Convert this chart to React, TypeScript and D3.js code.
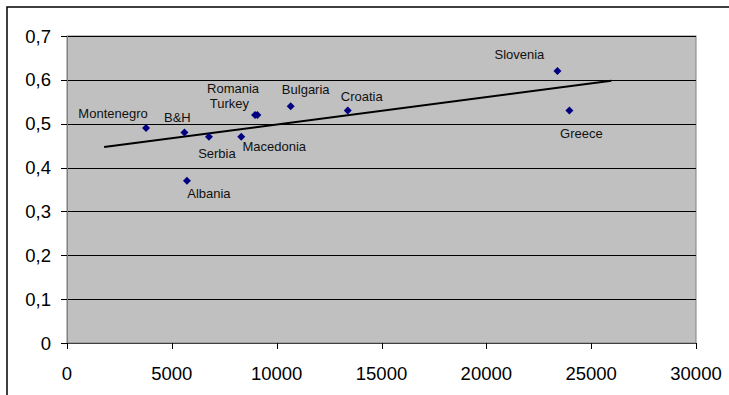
import React from "react";
import * as d3 from "d3";

// GDP per capita (USD) vs. index value, by country
const countries = ["Montenegro", "B&H", "Albania", "Serbia", "Macedonia", "Romania", "Turkey", "Bulgaria", "Croatia", "Slovenia", "Greece"];
const gdp = [3770, 5600, 5720, 6770, 8310, 8970, 9080, 10670, 13390, 23390, 23960];
const index = [0.49, 0.48, 0.37, 0.47, 0.47, 0.52, 0.52, 0.54, 0.53, 0.62, 0.53];

// label placement relative to each marker (px)
const labelDx = [-33, -7, 22, 8, 33, -22, -28, 15, 14, -38, 12];
const labelDy = [-15, -15, 13, 17, 10, -26, -11, -17, -14, -17, 23];

const xTicks = [0, 5000, 10000, 15000, 20000, 25000, 30000];
const yTicks = [0, 0.1, 0.2, 0.3, 0.4, 0.5, 0.6, 0.7];

// linear trendline extended 2000 units before and after the data
const trendForecast = 2000;

const W = 729;
const H = 395;
const plot = { left: 67, right: 696, top: 36, bottom: 343 };
const font = "Arial, 'Liberation Sans', sans-serif";

export default function App() {
  const x = d3.scaleLinear().domain([0, 30000]).range([plot.left, plot.right]);
  const y = d3.scaleLinear().domain([0, 0.7]).range([plot.bottom, plot.top]);

  const mx = d3.mean(gdp)!;
  const my = d3.mean(index)!;
  const sxy = d3.sum(gdp, (g, i) => (g - mx) * (index[i] - my));
  const sxx = d3.sum(gdp, (g) => (g - mx) ** 2);
  const slope = sxy / sxx;
  const intercept = my - slope * mx;
  const [gMin, gMax] = d3.extent(gdp) as [number, number];
  const trendX = [gMin - trendForecast, gMax + trendForecast];
  const trendLine = d3
    .line<number>()
    .x((g) => x(g))
    .y((g) => y(intercept + slope * g));

  const fmtY = (v: number) => (v === 0 ? "0" : d3.format(".1f")(v).replace(".", ","));
  // square marker turned 45° to a diamond
  const marker = d3.symbol(d3.symbolSquare, 32)();

  return (
    <svg
      width={W}
      height={H}
      style={{ position: "absolute", left: 0, top: 0, background: "#fff" }}
      fontFamily={font}
    >
      <rect x={7} y={7} width={W + 20} height={H + 20} fill="#fff" stroke="#000" strokeWidth={1.5} />

      <rect
        x={plot.left}
        y={plot.top}
        width={plot.right - plot.left}
        height={plot.bottom - plot.top}
        fill="#c0c0c0"
        stroke="#808080"
        strokeWidth={1}
      />

      {yTicks.slice(1).map((t) => (
        <line key={t} x1={plot.left} x2={plot.right} y1={Math.round(y(t)) + 0.5} y2={Math.round(y(t)) + 0.5} stroke="#000" strokeWidth={1} />
      ))}

      {/* axes */}
      <line x1={plot.left + 0.5} x2={plot.left + 0.5} y1={plot.top} y2={plot.bottom} stroke="#808080" />
      <line x1={plot.left} x2={plot.right} y1={plot.bottom + 0.5} y2={plot.bottom + 0.5} stroke="#404040" />
      {yTicks.map((t) => (
        <g key={t}>
          <line x1={plot.left - 6} x2={plot.left} y1={Math.round(y(t)) + 0.5} y2={Math.round(y(t)) + 0.5} stroke="#000" />
          <text x={plot.left - 16} y={y(t)} textAnchor="end" dominantBaseline="central" fontSize={18.5} fill="#000">
            {fmtY(t)}
          </text>
        </g>
      ))}
      {xTicks.map((t) => (
        <g key={t}>
          <line x1={Math.round(x(t)) + 0.5} x2={Math.round(x(t)) + 0.5} y1={plot.bottom} y2={plot.bottom + 6} stroke="#000" />
          <text x={x(t)} y={plot.bottom + 30} textAnchor="middle" dominantBaseline="central" fontSize={18.5} fill="#000">
            {t}
          </text>
        </g>
      ))}

      <path d={trendLine(trendX) || ""} stroke="#000" strokeWidth={2} fill="none" />

      {countries.map((c, i) => (
        <g key={c}>
          <path d={marker || ""} transform={`translate(${x(gdp[i])},${y(index[i])}) rotate(45)`} fill="#000080" />
          <text
            x={x(gdp[i]) + labelDx[i]}
            y={y(index[i]) + labelDy[i]}
            textAnchor="middle"
            dominantBaseline="central"
            fontSize={13}
            fill="#111"
          >
            {c}
          </text>
        </g>
      ))}
    </svg>
  );
}
